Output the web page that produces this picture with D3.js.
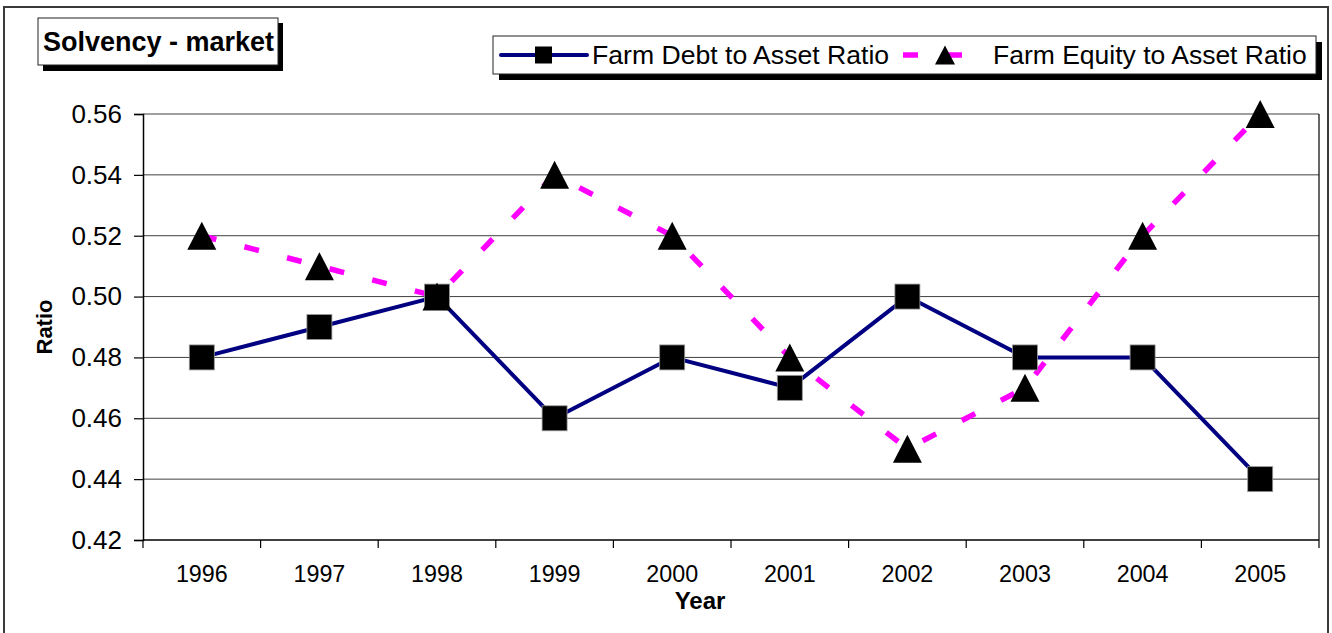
<!DOCTYPE html>
<html>
<head>
<meta charset="utf-8">
<script src="https://cdn.jsdelivr.net/npm/d3@7"></script>
<style>
  html, body { margin: 0; padding: 0; background: #fff; }
  svg { display: block; font-family: "Liberation Sans", Arial, sans-serif; }
</style>
</head>
<body>
<svg id="chart" width="1332" height="633"></svg>
<script>
const years = ["1996","1997","1998","1999","2000","2001","2002","2003","2004","2005"];
const debtRatio = [0.48, 0.49, 0.50, 0.46, 0.48, 0.47, 0.50, 0.48, 0.48, 0.44];
const equityRatio = [0.52, 0.51, 0.50, 0.54, 0.52, 0.48, 0.45, 0.47, 0.52, 0.56];
const yTicks = [0.42, 0.44, 0.46, 0.48, 0.50, 0.52, 0.54, 0.56];
const seriesNames = ["Farm Debt to Asset Ratio", "Farm Equity to Asset Ratio"];
const chartTitle = "Solvency - market";
const xTitle = "Year";
const yTitle = "Ratio";

const svg = d3.select("#chart");
const W = 1332, H = 633;
const plot = { left: 143, right: 1319, top: 114, bottom: 540 };

svg.append("rect").attr("x", 0).attr("y", 0).attr("width", W).attr("height", H).attr("fill", "#fff");
// outer chart border
svg.append("rect").attr("x", 4).attr("y", 7).attr("width", 1324).attr("height", 632)
  .attr("fill", "none").attr("stroke", "#3a3a3a").attr("stroke-width", 2);

const x = d3.scaleBand().domain(years).range([plot.left, plot.right]).padding(0);
const xc = d => x(d) + x.bandwidth() / 2;
const y = d3.scaleLinear().domain([0.42, 0.56]).range([plot.bottom, plot.top]);

// gridlines
svg.append("g").selectAll("line").data(yTicks.slice(1)).join("line")
  .attr("x1", plot.left).attr("x2", plot.right)
  .attr("y1", d => y(d)).attr("y2", d => y(d))
  .attr("stroke", "#404040").attr("stroke-width", 1);

// plot area right border
svg.append("line").attr("x1", plot.right).attr("x2", plot.right)
  .attr("y1", plot.top).attr("y2", plot.bottom)
  .attr("stroke", "#000").attr("stroke-width", 1.2);

// y axis
const yAxis = d3.axisLeft(y).tickValues(yTicks).tickFormat(d3.format(".2f")).tickSize(9).tickPadding(12);
const gy = svg.append("g").attr("transform", `translate(${plot.left},0)`).call(yAxis);
gy.select(".domain").attr("stroke", "#000").attr("stroke-width", 1.5);
gy.selectAll(".tick line").attr("stroke", "#000").attr("stroke-width", 1.2);
gy.selectAll(".tick text").attr("font-size", 26).attr("fill", "#000")
  .attr("font-family", "Liberation Sans, Arial, sans-serif");

// x axis line
svg.append("line").attr("x1", plot.left).attr("x2", plot.right)
  .attr("y1", plot.bottom).attr("y2", plot.bottom)
  .attr("stroke", "#000").attr("stroke-width", 1.5);
// x ticks at category boundaries
const boundaries = years.map(d => x(d)).concat([x.range()[1]]);
svg.append("g").selectAll("line").data(boundaries).join("line")
  .attr("x1", d => d).attr("x2", d => d)
  .attr("y1", plot.bottom).attr("y2", plot.bottom + 8)
  .attr("stroke", "#000").attr("stroke-width", 1.2);
svg.append("g").selectAll("text").data(years).join("text")
  .attr("x", d => xc(d)).attr("y", 582)
  .attr("text-anchor", "middle").attr("font-size", 23.3).attr("fill", "#000")
  .text(d => d);

// axis titles
svg.append("text").attr("x", 700).attr("y", 609).attr("text-anchor", "middle")
  .attr("font-size", 24).attr("font-weight", "bold").text(xTitle);
svg.append("text").attr("transform", "translate(52,327) rotate(-90)").attr("text-anchor", "middle")
  .attr("font-size", 22).attr("font-weight", "bold").text(yTitle);

// series lines
const line = d3.line().x((d, i) => xc(years[i])).y(d => y(d));
svg.append("path").datum(equityRatio).attr("d", line)
  .attr("fill", "none").attr("stroke", "#ff00ff").attr("stroke-width", 5.5)
  .attr("stroke-dasharray", "15,29");
svg.append("path").datum(debtRatio).attr("d", line)
  .attr("fill", "none").attr("stroke", "#000080").attr("stroke-width", 4)
  .attr("stroke-linejoin", "round");

// markers
const sq = 25;
svg.append("g").selectAll("rect").data(debtRatio).join("rect")
  .attr("x", (d, i) => xc(years[i]) - sq / 2).attr("y", d => y(d) - sq / 2)
  .attr("width", sq).attr("height", sq)
  .attr("fill", "#000").attr("stroke", "#999").attr("stroke-width", 0.8);
const triW = 29, triH = 28;
const tri = (cx, cy, w, h) => `M${cx},${cy - h / 2}L${cx + w / 2},${cy + h / 2}L${cx - w / 2},${cy + h / 2}Z`;
svg.append("g").selectAll("path").data(equityRatio).join("path")
  .attr("d", (d, i) => tri(xc(years[i]), y(d), triW, triH))
  .attr("fill", "#000");

// title box
svg.append("rect").attr("x", 43).attr("y", 23).attr("width", 240).attr("height", 48).attr("fill", "#000");
svg.append("rect").attr("x", 38).attr("y", 18).attr("width", 240).attr("height", 47)
  .attr("fill", "#fff").attr("stroke", "#222").attr("stroke-width", 1);
svg.append("text").attr("x", 43).attr("y", 51).attr("font-size", 27).attr("font-weight", "bold")
  .text(chartTitle);

// legend
const lg = { x: 493, y: 36, w: 823, h: 38 };
svg.append("rect").attr("x", lg.x + 6).attr("y", lg.y + 6).attr("width", lg.w).attr("height", lg.h).attr("fill", "#000");
svg.append("rect").attr("x", lg.x).attr("y", lg.y).attr("width", lg.w).attr("height", lg.h)
  .attr("fill", "#fff").attr("stroke", "#222").attr("stroke-width", 1);
const ly = lg.y + lg.h / 2;
svg.append("line").attr("x1", 501).attr("x2", 587).attr("y1", ly).attr("y2", ly)
  .attr("stroke", "#000080").attr("stroke-width", 4).attr("stroke-linecap", "round");
svg.append("rect").attr("x", 535).attr("y", ly - 8.5).attr("width", 17).attr("height", 17).attr("fill", "#000");
svg.append("text").attr("x", 592).attr("y", ly + 9).attr("font-size", 26.6).text(seriesNames[0]);
svg.append("line").attr("x1", 903).attr("x2", 985).attr("y1", ly).attr("y2", ly)
  .attr("stroke", "#ff00ff").attr("stroke-width", 5.5).attr("stroke-dasharray", "15,29");
svg.append("path").attr("d", tri(945, ly, 20, 19)).attr("fill", "#000");
svg.append("text").attr("x", 993).attr("y", ly + 9).attr("font-size", 26.5).text(seriesNames[1]);
</script>
</body>
</html>
